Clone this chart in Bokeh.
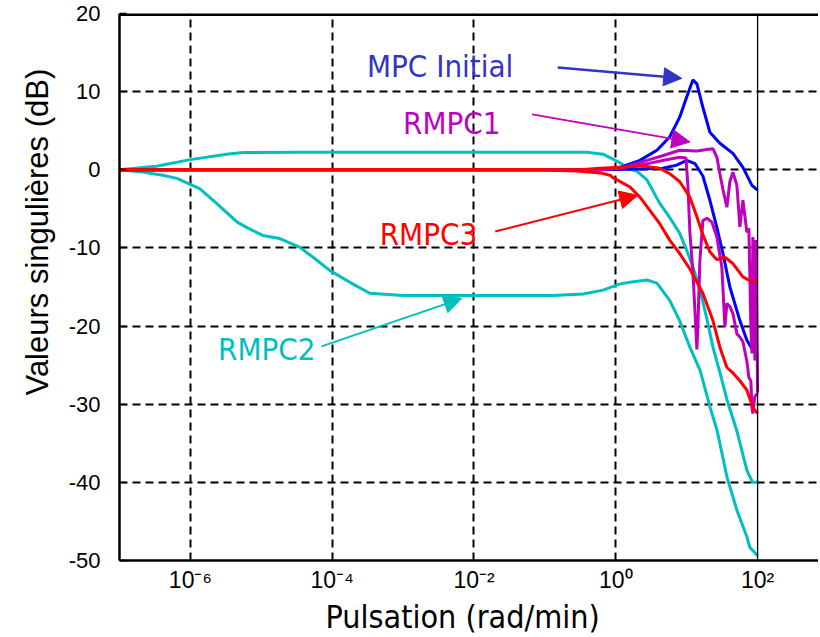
from bokeh.plotting import figure
from bokeh.models import Range1d, FixedTicker, Span, Label, Arrow, NormalHead, Title
from bokeh.embed import file_html
from bokeh.resources import INLINE

# ---- data: x as log10(pulsation [rad/min]), y in dB ----
cyan_hi_lx = [-7.0, -6.48, -6.0, -5.49, -5.26, -4.5, -3.0, -1.5, -0.41, -0.18, 0.06, 0.2, 0.3, 0.44, 0.62, 0.76, 0.9, 1.0, 1.09, 1.19, 1.29, 1.37, 1.47, 1.57, 1.71, 1.85, 1.93, 2.0]
cyan_hi_db = [0.0, 0.45, 1.3, 2.0, 2.2, 2.25, 2.25, 2.25, 2.25, 2.0, 0.9, 0.1, -0.2, -1.3, -4.3, -6.1, -8.1, -10.3, -12.5, -15.4, -19.3, -22.7, -26.0, -29.5, -33.5, -38.5, -40.0, -40.0]

cyan_lo_lx = [-7.0, -6.67, -6.39, -6.19, -5.87, -5.63, -5.34, -5.2, -4.98, -4.74, -4.46, -4.27, -4.03, -3.75, -3.47, -3.0, -1.5, -0.89, -0.46, -0.18, 0.06, 0.2, 0.44, 0.58, 0.76, 0.9, 1.045, 1.19, 1.33, 1.43, 1.57, 1.71, 1.85, 1.89, 2.0]
cyan_lo_db = [0.0, -0.3, -0.7, -1.1, -2.4, -4.3, -6.7, -7.4, -8.4, -8.8, -9.9, -11.2, -12.9, -14.4, -15.8, -16.1, -16.1, -16.1, -15.9, -15.4, -14.6, -14.4, -14.1, -14.5, -16.7, -19.3, -22.7, -25.7, -30.4, -33.4, -39.4, -43.6, -47.0, -48.3, -49.4]

blue_a_lx = [-7.0, -0.22, 0.06, 0.34, 0.58, 0.76, 0.9, 1.0, 1.087, 1.144, 1.228, 1.327, 1.468, 1.652, 1.793, 1.92, 2.0]
blue_a_db = [0.0, 0.0, 0.3, 1.2, 2.5, 4.2, 6.7, 9.3, 11.5, 11.0, 8.0, 4.8, 3.4, 2.1, 0.3, -2.0, -2.6]

blue_b_lx = [-7.0, -0.22, 0.34, 0.66, 0.86, 1.0, 1.116, 1.228, 1.327, 1.426, 1.511, 1.609, 1.75, 1.849, 1.933, 2.0]
blue_b_db = [0.0, 0.0, 0.1, 0.2, 0.6, 1.2, 0.8, -0.8, -3.9, -7.4, -10.7, -15.0, -19.3, -21.8, -23.1, -23.4]

mag_a_lx = [-7.0, -0.22, 0.06, 0.44, 0.66, 0.9, 1.144, 1.285, 1.37, 1.426, 1.468, 1.511, 1.567, 1.609, 1.652, 1.708, 1.75, 1.793, 1.849, 1.877, 1.905, 1.92, 1.933, 1.948, 1.962, 1.976, 2.0]
mag_a_db = [0.0, 0.0, 0.2, 1.2, 1.8, 2.5, 2.4, 2.6, 2.7, 1.6, -0.5, -2.5, -4.8, -1.5, -0.3, -2.0, -7.3, -3.9, -8.0, -7.5, -20.0, -23.5, -8.6, -15.0, -24.4, -9.0, -28.5]

mag_b_lx = [-7.0, -0.22, 0.3, 0.66, 0.9, 0.99, 1.017, 1.045, 1.087, 1.116, 1.144, 1.158, 1.186, 1.228, 1.285, 1.355, 1.426, 1.496, 1.539, 1.567, 1.609, 1.652, 1.708, 1.75, 1.793, 1.849, 1.877, 1.905, 1.92, 1.933, 1.962, 2.0]
mag_b_db = [0.0, 0.0, 0.5, 1.2, 1.6, 1.5, -2.0, -8.0, -13.0, -18.0, -23.0, -20.0, -11.6, -6.5, -6.2, -6.7, -8.6, -12.5, -20.1, -17.1, -17.5, -18.4, -21.0, -21.4, -22.0, -24.5, -26.6, -27.0, -30.4, -31.2, -29.0, -28.6]

red_a_lx = [-7.0, -1.07, -0.55, -0.22, -0.08, -0.04, 0.2, 0.34, 0.48, 0.62, 0.76, 0.9, 1.045, 1.228, 1.37, 1.468, 1.567, 1.652, 1.75, 1.849, 1.933, 2.0]
red_a_db = [0.0, 0.0, -0.15, -0.4, -0.7, -1.0, -2.2, -3.5, -5.2, -6.9, -9.0, -10.7, -12.7, -15.8, -19.3, -22.7, -25.3, -26.0, -27.0, -28.2, -30.4, -31.2]

red_b_lx = [-7.0, -0.5, -0.22, 0.38, 0.62, 0.76, 0.9, 1.045, 1.144, 1.228, 1.327, 1.426, 1.539, 1.652, 1.793, 1.89, 2.0]
red_b_db = [0.0, 0.0, 0.2, 0.5, 0.2, -0.5, -1.5, -3.5, -6.0, -8.3, -10.5, -11.5, -11.2, -12.0, -13.7, -14.2, -14.2]

x_ticks = [1e-6, 1e-4, 1e-2, 1.0, 1e2]
x_tick_labels = ["10\u207b\u2076", "10\u207b\u2074", "10\u207b\u00b2", "10\u2070", "10\u00b2"]
y_ticks = [-50, -40, -30, -20, -10, 0, 10, 20]
y_tick_labels = ["-50", "-40", "-30", "-20", "-10", "0", "10", "20"]

CYAN = "#00BFBF"
BLUE = "#0000FF"
MAG = "#BF00BF"
RED = "#FF0000"
NARROW = "DejaVu Sans Condensed, Liberation Sans"

def pw(lx):
    return [10 ** v for v in lx]

p = figure(width=818, height=635, x_axis_type="log", output_backend="svg",
           toolbar_location=None, x_range=Range1d(1e-7, 10 ** 2.859),
           y_range=Range1d(-50, 20), min_border_left=119, min_border_right=0,
           min_border_top=13, min_border_bottom=75)
p.outline_line_color = None
p.background_fill_color = "white"

# axes
for ax in (p.xaxis[0], p.yaxis[0]):
    ax.axis_line_width = 2.5
    ax.axis_line_color = "black"
    ax.major_tick_out = 0
    ax.major_tick_in = 7
    ax.major_tick_line_width = 1.5
    ax.major_tick_line_color = "black"
    ax.minor_tick_line_color = None
    ax.major_label_text_color = "black"
p.xaxis.ticker = FixedTicker(ticks=x_ticks)
p.xaxis.major_label_overrides = dict(zip(x_ticks, x_tick_labels))
p.xaxis.major_label_text_font = "Liberation Sans"
p.xaxis.major_label_text_font_size = "23px"
p.xaxis.major_label_standoff = 6
p.xaxis.major_tick_in = 0
p.yaxis.ticker = FixedTicker(ticks=y_ticks)
p.yaxis.major_label_overrides = dict(zip(y_ticks, y_tick_labels))
p.yaxis.major_label_text_font = "Liberation Sans"
p.yaxis.major_label_text_font_size = "22px"
p.yaxis.major_label_standoff = 19

# grid
p.xgrid.ticker = FixedTicker(ticks=[1e-6, 1e-4, 1e-2, 1.0])
p.ygrid.ticker = FixedTicker(ticks=[-40, -30, -20, -10, 0, 10])
for g in (p.xgrid[0], p.ygrid[0]):
    g.grid_line_color = "black"
    g.grid_line_width = 2
    g.grid_line_dash = "8 5"

p.add_layout(Span(location=1e2, dimension="height", line_color="black", line_width=1.3))
p.add_layout(Span(location=20, dimension="width", line_color="black", line_width=5))

# curves
lw = 3
p.line(pw(cyan_hi_lx), cyan_hi_db, line_color=CYAN, line_width=lw)
p.line(pw(cyan_lo_lx), cyan_lo_db, line_color=CYAN, line_width=lw)
p.line(pw(blue_a_lx), blue_a_db, line_color=BLUE, line_width=lw)
p.line(pw(blue_b_lx), blue_b_db, line_color=BLUE, line_width=lw)
p.line(pw(mag_a_lx), mag_a_db, line_color=MAG, line_width=lw)
p.line(pw(mag_b_lx), mag_b_db, line_color=MAG, line_width=lw)
p.line(pw(red_a_lx), red_a_db, line_color=RED, line_width=lw)
p.line(pw(red_b_lx), red_b_db, line_color=RED, line_width=lw)

# annotations (text + arrows), positions in (log10 x, dB)
ann = [
    ("MPC Initial", "#3434C4", -3.51, 13.3, (-0.82, 13.1, 0.93, 11.7), 2.5),
    ("RMPC1", "#C000C0", -3.0, 6.0, (-1.18, 7.1, 1.045, 3.56), 1.8),
    ("RMPC3", "#FF0000", -3.33, -8.2, (-1.70, -7.9, 0.31, -3.27), 2.0),
    ("RMPC2", "#00BFBF", -5.61, -22.95, (-4.15, -22.6, -2.17, -16.45), 2.0),
]
for txt, col, tx, ty, (x0, y0, x1, y1), alw in ann:
    p.add_layout(Label(x=10 ** tx, y=ty, text=txt, text_color=col,
                       text_font=NARROW, text_font_size="31px",
                       text_baseline="alphabetic", text_align="left"))
    p.add_layout(Arrow(x_start=10 ** x0, y_start=y0, x_end=10 ** x1, y_end=y1,
                       line_color=col, line_width=alw,
                       end=NormalHead(size=18, fill_color=col, line_color=col)))

# axis titles
p.add_layout(Title(text="Valeurs singulières (dB)", align="left", offset=165,
                   text_font="Liberation Sans", text_font_size="31px",
                   text_font_style="normal", text_color="black", standoff=22), "left")
p.add_layout(Title(text="Pulsation (rad/min)", align="left", offset=206,
                   text_font=NARROW, text_font_size="32px",
                   text_font_style="normal", text_color="black", standoff=0), "below")

open("out.html", "w").write(file_html(p, INLINE))
